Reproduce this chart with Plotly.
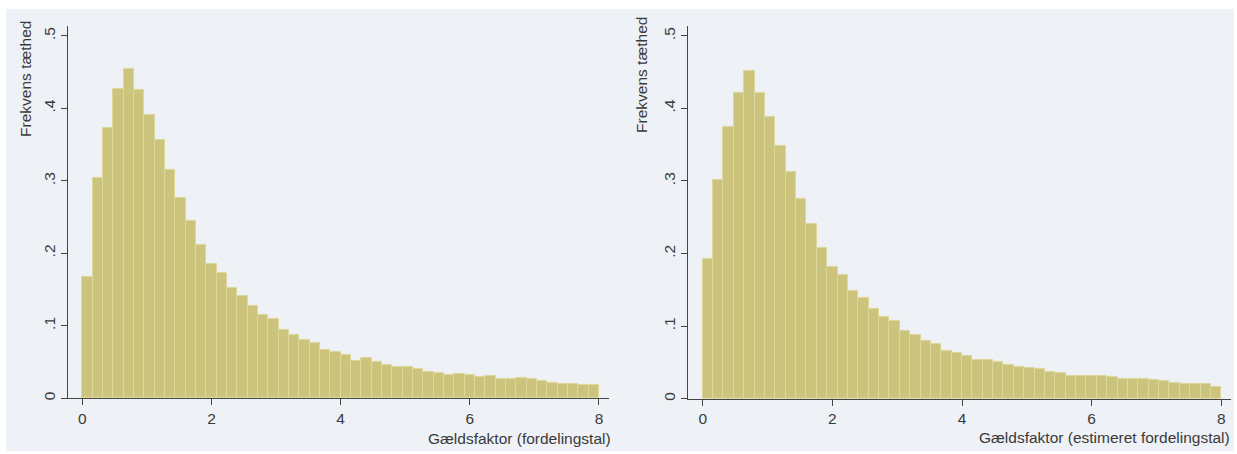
import plotly.graph_objects as go

# ---- data ----
bin_start = 0.0
bin_width = 0.16
density_left = [0.167, 0.304, 0.373, 0.427, 0.454, 0.425, 0.391, 0.356, 0.315, 0.277,
                0.245, 0.211, 0.186, 0.173, 0.152, 0.141, 0.127, 0.115, 0.109, 0.094,
                0.088, 0.080, 0.077, 0.067, 0.064, 0.060, 0.051, 0.055, 0.050, 0.046,
                0.043, 0.043, 0.040, 0.036, 0.035, 0.032, 0.033, 0.032, 0.029, 0.031,
                0.027, 0.027, 0.028, 0.027, 0.024, 0.021, 0.020, 0.020, 0.018, 0.018]
density_right = [0.192, 0.301, 0.374, 0.422, 0.452, 0.421, 0.389, 0.349, 0.312, 0.275,
                 0.241, 0.208, 0.181, 0.170, 0.149, 0.139, 0.124, 0.113, 0.107, 0.093,
                 0.088, 0.080, 0.075, 0.066, 0.063, 0.059, 0.054, 0.054, 0.051, 0.046,
                 0.044, 0.043, 0.041, 0.037, 0.035, 0.032, 0.032, 0.031, 0.031, 0.030,
                 0.027, 0.027, 0.027, 0.026, 0.024, 0.022, 0.020, 0.020, 0.020, 0.017]
y_ticks = [0, 0.1, 0.2, 0.3, 0.4, 0.5]
y_ticklabels = ["0", ".1", ".2", ".3", ".4", ".5"]
x_ticks = [0, 2, 4, 6, 8]
x_ticklabels = ["0", "2", "4", "6", "8"]
y_title = "Frekvens tæthed"
x_title_left = "Gældsfaktor (fordelingstal)"
x_title_right = "Gældsfaktor (estimeret fordelingstal)"

W, H = 1237, 454
BAR = "#CCC47D"
BAR_LINE = "#DCD89C"
TXT = "#3a3a3a"
AX = "#454545"
GRID = "#EAF0F4"
BG = "#EEF1F6"
FONT = "Liberation Sans, Arial, sans-serif"
TICK_SIZE = 15.5
TITLE_SIZE = 15.5

def centers(vals):
    return [bin_start + bin_width * (i + 0.5) for i in range(len(vals))]

fig = go.Figure()
fig.add_trace(go.Bar(x=centers(density_left), y=density_left, width=bin_width,
                     marker=dict(color=BAR, line=dict(color=BAR_LINE, width=1)),
                     xaxis="x", yaxis="y", showlegend=False, hoverinfo="x+y"))
fig.add_trace(go.Bar(x=centers(density_right), y=density_right, width=bin_width,
                     marker=dict(color=BAR, line=dict(color=BAR_LINE, width=1)),
                     xaxis="x2", yaxis="y2", showlegend=False, hoverinfo="x+y"))

def px(v):
    return v / W

def py(v):
    return (H - v) / H

xcommon = dict(tickmode="array", tickvals=x_ticks, ticktext=x_ticklabels,
               showgrid=False, zeroline=False, showline=True, linecolor=AX, linewidth=1.3,
               ticks="outside", ticklen=6, tickcolor=AX, tickwidth=1,
               tickfont=dict(size=TICK_SIZE, color=TXT, family=FONT), fixedrange=True)
ycommon = dict(tickmode="array", tickvals=y_ticks, ticktext=y_ticklabels,
               showgrid=True, gridcolor=GRID, gridwidth=1, zeroline=False,
               showline=True, linecolor=AX, linewidth=1.3,
               ticks="outside", ticklen=6, tickcolor=AX, tickwidth=1, tickangle=-90,
               tickfont=dict(size=TICK_SIZE, color=TXT, family=FONT), range=[0, 0.5137],
               fixedrange=True)

fig.update_layout(
    width=W, height=H,
    margin=dict(l=0, r=0, t=0, b=0),
    paper_bgcolor="white", plot_bgcolor="white",
    bargap=0,
    font=dict(family=FONT, color=TXT),
    xaxis=dict(domain=[px(68), px(609)], range=[-0.221, 8.155], anchor="y", **xcommon),
    yaxis=dict(domain=[py(400), py(26)], anchor="x", **ycommon),
    xaxis2=dict(domain=[px(688), px(1230.7)], range=[-0.227, 8.145], anchor="y2", **xcommon),
    yaxis2=dict(domain=[py(400.5), py(26)], anchor="x2", **ycommon),
    shapes=[dict(type="rect", xref="paper", yref="paper", x0=px(6), x1=px(1234),
                 y0=py(453), y1=py(9), fillcolor=BG, line=dict(width=0), layer="below")],
    annotations=[
        dict(text=y_title, textangle=-90, xref="paper", yref="paper", x=px(26), y=py(19),
             xanchor="center", yanchor="top", showarrow=False,
             font=dict(size=TITLE_SIZE, color=TXT, family=FONT)),
        dict(text=y_title, textangle=-90, xref="paper", yref="paper", x=px(642), y=py(15),
             xanchor="center", yanchor="top", showarrow=False,
             font=dict(size=TITLE_SIZE, color=TXT, family=FONT)),
        dict(text=x_title_left, xref="paper", yref="paper", x=px(613), y=py(440),
             xanchor="right", yanchor="middle", showarrow=False,
             font=dict(size=TITLE_SIZE, color=TXT, family=FONT)),
        dict(text=x_title_right, xref="paper", yref="paper", x=px(1232), y=py(439),
             xanchor="right", yanchor="middle", showarrow=False,
             font=dict(size=TITLE_SIZE, color=TXT, family=FONT)),
    ],
)

fig.write_html("out.html",
               config={"displayModeBar": False},
               post_script="document.body.style.margin='0';document.body.style.overflow='hidden';")
